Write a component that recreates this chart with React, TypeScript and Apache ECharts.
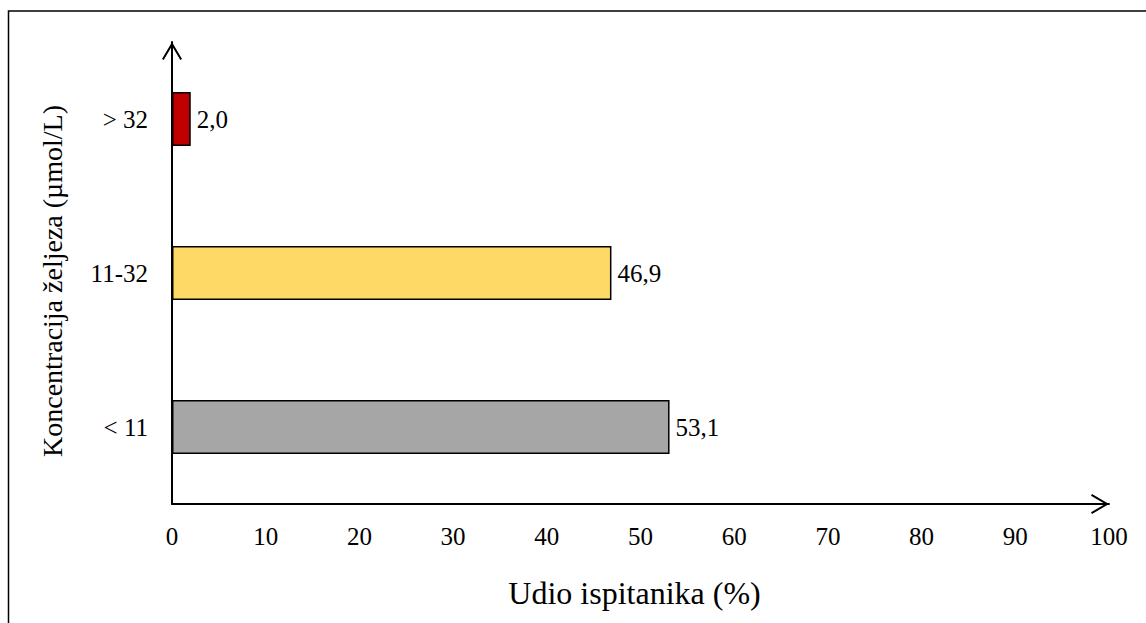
import React, { useEffect, useRef } from "react";
import * as echarts from "echarts";

const categories = ["< 11", "11-32", "> 32"];
const values = [53.1, 46.9, 2.0];
const barColors = ["#A6A6A6", "#FFD966", "#C00000"];
const xTicks = { min: 0, max: 100, interval: 10 };
const xTitle = "Udio ispitanika (%)";
const yTitle = "Koncentracija željeza (µmol/L)";

const FONT = "Liberation Serif";
const ARROW = "path://M10,0 L20,17 L18.3,18 L10,3.9 L1.7,18 L0,17 Z";

export default function App() {
  const ref = useRef<HTMLDivElement>(null);
  useEffect(() => {
    if (!ref.current) return;
    const chart = echarts.init(ref.current, undefined, { renderer: "svg" });
    chart.setOption({
      animation: false,
      backgroundColor: "#fff",
      textStyle: { fontFamily: FONT },
      graphic: [
        {
          type: "rect",
          shape: { x: 8.5, y: 11, width: 1200, height: 700 },
          style: { fill: "none", stroke: "#000", lineWidth: 1.5 },
          silent: true,
        },
      ],
      grid: { left: 172, right: 37, top: 42, bottom: 119, containLabel: false },
      xAxis: {
        type: "value",
        min: xTicks.min,
        max: xTicks.max,
        interval: xTicks.interval,
        name: xTitle,
        nameLocation: "middle",
        nameGap: 73,
        nameTextStyle: { fontFamily: FONT, fontSize: 32, color: "#000", padding: [0, 12, 0, 0] },
        axisLine: {
          show: true,
          lineStyle: { color: "#000", width: 2 },
          symbol: ["none", ARROW],
          symbolSize: [20, 18],
          symbolOffset: [0, -9],
        },
        axisTick: { show: false },
        splitLine: { show: false },
        axisLabel: { fontFamily: FONT, fontSize: 25, color: "#000", margin: 20 },
      },
      yAxis: {
        type: "category",
        data: categories,
        name: yTitle,
        nameLocation: "middle",
        nameGap: 106,
        nameRotate: 90,
        nameTextStyle: { fontFamily: FONT, fontSize: 28, color: "#000", padding: [0, 16, 0, 0] },
        axisLine: {
          show: true,
          lineStyle: { color: "#000", width: 2 },
          symbol: ["none", ARROW],
          symbolSize: [20, 18],
          symbolOffset: [0, -9],
        },
        axisTick: { show: false },
        splitLine: { show: false },
        axisLabel: { fontFamily: FONT, fontSize: 25, color: "#000", margin: 24 },
      },
      series: [
        {
          type: "bar",
          barWidth: 54,
          data: values.map((v, i) => ({
            value: v,
            itemStyle: { color: barColors[i], borderColor: "#000", borderWidth: 1.5 },
          })),
          label: {
            show: true,
            position: "right",
            distance: 6,
            fontFamily: FONT,
            fontSize: 25,
            color: "#000",
            formatter: (p: any) => Number(p.value).toFixed(1).replace(".", ","),
          },
        },
      ],
    });
    return () => chart.dispose();
  }, []);
  return (
    <div
      ref={ref}
      style={{ position: "absolute", left: 0, top: 0, width: 1146, height: 623 }}
    />
  );
}
